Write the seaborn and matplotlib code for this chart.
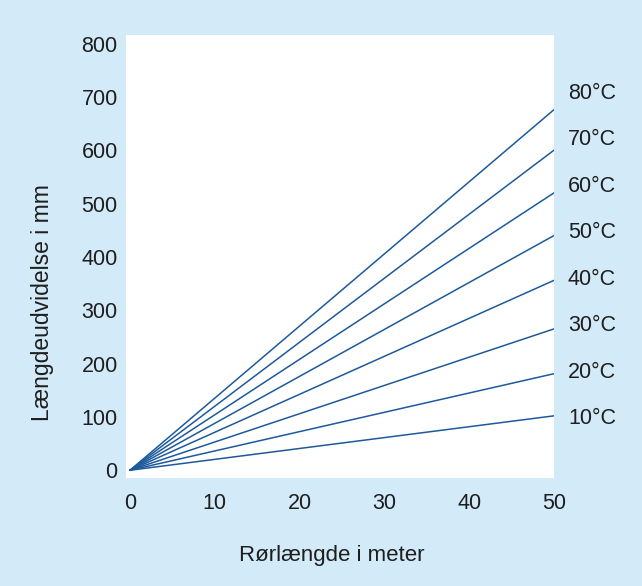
import numpy as np
import pandas as pd
import matplotlib
matplotlib.use("Agg")
import matplotlib.pyplot as plt
import seaborn as sns

# Data: expansion (mm) at 50 m pipe length
temps = [10, 20, 30, 40, 50, 60, 70, 80]
temp_labels = ["10°C", "20°C", "30°C", "40°C", "50°C", "60°C", "70°C", "80°C"]
pipe_length = [0, 50]
expansion_at_50 = [102, 181, 265, 356, 440, 520, 600, 676]
y_ticks = [0, 100, 200, 300, 400, 500, 600, 700, 800]
x_ticks = [0, 10, 20, 30, 40, 50]

rows = []
for t, end in zip(temps, expansion_at_50):
    for x in pipe_length:
        rows.append({"length": x, "expansion": end * x / pipe_length[-1], "temp": t})
df = pd.DataFrame(rows)

bg = "#d3eaf9"
line_col = "#1d5a9b"
grid_col = "#e2e2e7"
text_col = "#1e1e1e"

sns.set_theme(style="white")
plt.rcParams["font.family"] = ["Liberation Sans", "DejaVu Sans"]

fig = plt.figure(figsize=(6.42, 5.86), dpi=100, facecolor=bg)
ax = fig.add_axes([0.1963, 0.1848, 0.6666, 0.7555])
ax.set_facecolor("white")
ax.set_axisbelow(True)

sns.lineplot(data=df, x="length", y="expansion", hue="temp",
             palette=[line_col] * len(temps), legend=False, lw=1.1, ax=ax,
             zorder=3)

ax.set_xlim(-0.47, 50)
ax.set_ylim(-14, 816)
ax.set_xticks(x_ticks)
ax.set_yticks(y_ticks)
# gridlines only between 100 and 700, slightly sticking out of the plot area
ax.set_yticks(y_ticks[1:-1], minor=True)
ax.grid(which="major", visible=False)
ax.grid(which="minor", axis="y", visible=True, color=grid_col, lw=1.3)
ax.tick_params(which="major", length=0, labelsize=15.5, colors=text_col)
ax.tick_params(axis="x", which="major", pad=11)
ax.tick_params(axis="y", which="major", pad=6)
ax.tick_params(axis="y", which="minor", length=4, width=1.3, color=grid_col,
               left=True, right=True)
for s in ax.spines.values():
    s.set_visible(False)
ax.set_xlabel("")
ax.set_ylabel("")

# temperature labels to the right of the lines
label_pos = np.linspace(97, 707, len(temps))
for lab, yp in zip(temp_labels, label_pos):
    ax.text(51.65, yp, lab, ha="left", va="center", fontsize=15.5,
            color=text_col, clip_on=False)

fig.text(332 / 642, 1 - 555 / 586, "Rørlængde i meter", ha="center", va="center",
         fontsize=16, color=text_col)
fig.text(43 / 642, 1 - 303 / 586, "Længdeudvidelse i mm", ha="center", va="center",
         rotation=90, fontsize=16.5, color=text_col)

fig.savefig("out.png", dpi=100, facecolor=bg)
